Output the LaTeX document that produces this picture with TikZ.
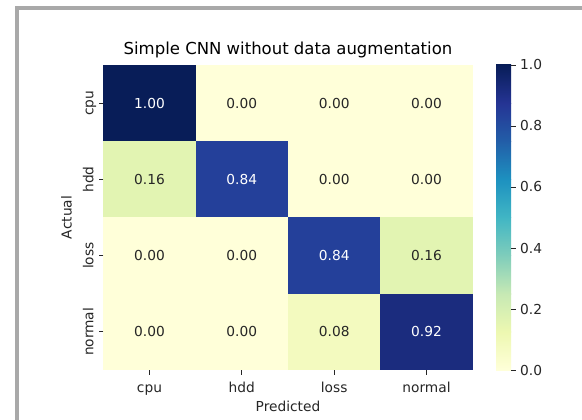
\documentclass[tikz,border=0pt]{standalone}
\usepackage{fontspec}
\setmainfont{DejaVu Sans}
\definecolor{v000}{HTML}{FFFFD9}
\definecolor{v125}{HTML}{EDF8B1}
\definecolor{v250}{HTML}{C7E9B4}
\definecolor{v375}{HTML}{7FCDBB}
\definecolor{v500}{HTML}{41B6C4}
\definecolor{v625}{HTML}{1D91C0}
\definecolor{v750}{HTML}{225EA8}
\definecolor{v875}{HTML}{253494}
\definecolor{v1000}{HTML}{081D58}
\definecolor{v008}{HTML}{F3FABF}
\definecolor{v016}{HTML}{E2F4B2}
\definecolor{v084}{HTML}{24409A}
\definecolor{v092}{HTML}{1B2C7E}
\definecolor{tdark}{HTML}{262626}
\definecolor{framegrey}{HTML}{A9A9A9}
\begin{document}
\begin{tikzpicture}[x=1pt,y=-1pt,
  cell/.style={minimum width=92.35pt, minimum height=76.25pt, inner sep=0pt, outer sep=0pt, draw=none, font=\fontsize{13.75}{16}\selectfont},
  lt/.style={cell, text=tdark},
  dk/.style={cell, text=white},
  tickline/.style={draw=tdark, line width=0.9pt},
  ticklab/.style={inner sep=0pt, text=tdark, font=\fontsize{13.75}{16}\selectfont},
  ylab/.style={ticklab, rotate=90, anchor=base},
  xlab/.style={ticklab, anchor=base},
  cblab/.style={ticklab, anchor=base west}]
\useasboundingbox (0,0) rectangle (582,420);
\fill[white] (0,0) rectangle (582,420);
\draw[framegrey, line width=4pt] (17,422) -- (17,8) -- (584,8);

% heatmap cells
\node[dk, fill=v1000] (c11) at (149.5,103.1) {1.00};
\node[lt, fill=v000]  (c12) at (241.8,103.1) {0.00};
\node[lt, fill=v000]  (c13) at (334.2,103.1) {0.00};
\node[lt, fill=v000]  (c14) at (426.5,103.1) {0.00};
\node[lt, fill=v016]  (c21) at (149.5,179.4) {0.16};
\node[dk, fill=v084]  (c22) at (241.8,179.4) {0.84};
\node[lt, fill=v000]  (c23) at (334.2,179.4) {0.00};
\node[lt, fill=v000]  (c24) at (426.5,179.4) {0.00};
\node[lt, fill=v000]  (c31) at (149.5,255.6) {0.00};
\node[lt, fill=v000]  (c32) at (241.8,255.6) {0.00};
\node[dk, fill=v084]  (c33) at (334.2,255.6) {0.84};
\node[lt, fill=v016]  (c34) at (426.5,255.6) {0.16};
\node[lt, fill=v000]  (c41) at (149.5,331.9) {0.00};
\node[lt, fill=v000]  (c42) at (241.8,331.9) {0.00};
\node[lt, fill=v008]  (c43) at (334.2,331.9) {0.08};
\node[dk, fill=v092]  (c44) at (426.5,331.9) {0.92};

% y ticks and labels
\draw[tickline] (c11.west) -- ++(-4.8,0);
\draw[tickline] (c21.west) -- ++(-4.8,0);
\draw[tickline] (c31.west) -- ++(-4.8,0);
\draw[tickline] (c41.west) -- ++(-4.8,0);
\node[ylab] (ycpu) at (93.3,103.1) {cpu};
\node[ylab] (yhdd) at (93.3,179.4) {hdd};
\node[ylab] (yloss) at (93.3,255.6) {loss};
\node[ylab] (ynormal) at (93.3,331.9) {normal};
\node[ylab] (actual) at (71.7,217.5) {Actual};

% x ticks and labels
\draw[tickline] (c41.south) -- ++(0,4.8);
\draw[tickline] (c42.south) -- ++(0,4.8);
\draw[tickline] (c43.south) -- ++(0,4.8);
\draw[tickline] (c44.south) -- ++(0,4.8);
\node[xlab] (xcpu) at (149.5,392.5) {cpu};
\node[xlab] (xhdd) at (241.8,392.5) {hdd};
\node[xlab] (xloss) at (334.2,392.5) {loss};
\node[xlab] (xnormal) at (426.5,392.5) {normal};
\node[xlab] (predicted) at (288,411.5) {Predicted};

% title
\node[inner sep=0pt, anchor=base, text=black, font=\fontsize{16.5}{19}\selectfont] (title) at (288,55) {Simple CNN without data augmentation};

% colorbar
\shade[bottom color=v000, top color=v125] (496,370.3) rectangle (511,331.875);
\shade[bottom color=v125, top color=v250] (496,332.125) rectangle (511,293.75);
\shade[bottom color=v250, top color=v375] (496,294) rectangle (511,255.625);
\shade[bottom color=v375, top color=v500] (496,255.875) rectangle (511,217.5);
\shade[bottom color=v500, top color=v625] (496,217.75) rectangle (511,179.375);
\shade[bottom color=v625, top color=v750] (496,179.625) rectangle (511,141.25);
\shade[bottom color=v750, top color=v875] (496,141.5) rectangle (511,103.125);
\shade[bottom color=v875, top color=v1000] (496,103.375) rectangle (511,65);
\coordinate (cb0) at (511,370);
\coordinate (cb2) at (511,309);
\coordinate (cb4) at (511,248);
\coordinate (cb6) at (511,187);
\coordinate (cb8) at (511,126);
\coordinate (cb10) at (511,65);
\draw[tickline] (cb0) -- ++(4.8,0);
\draw[tickline] (cb2) -- ++(4.8,0);
\draw[tickline] (cb4) -- ++(4.8,0);
\draw[tickline] (cb6) -- ++(4.8,0);
\draw[tickline] (cb8) -- ++(4.8,0);
\draw[tickline] (cb10) -- ++(4.8,0);
\node[cblab] (l0) at (520,375) {0.0};
\node[cblab] (l2) at (520,314) {0.2};
\node[cblab] (l4) at (520,253) {0.4};
\node[cblab] (l6) at (520,192) {0.6};
\node[cblab] (l8) at (520,131) {0.8};
\node[cblab] (l10) at (520,70) {1.0};
\end{tikzpicture}
\end{document}
